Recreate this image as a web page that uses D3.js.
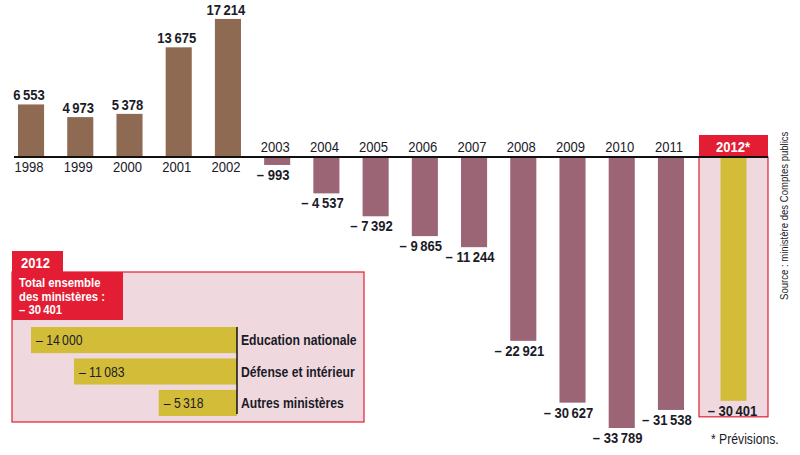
<!DOCTYPE html>
<html>
<head>
<meta charset="utf-8">
<script src="https://cdn.jsdelivr.net/npm/d3@7"></script>
<style>
  body { margin: 0; background: #fff; }
  svg text { font-family: "Liberation Sans", Arial, sans-serif; fill: #1b1b28; }
</style>
</head>
<body>
<svg id="chart" width="800" height="455"></svg>
<script>
// yearly balance of posts (1998-2011 realised, 2012 forecast)
let years = ["1998","1999","2000","2001","2002","2003","2004","2005","2006","2007","2008","2009","2010","2011"];
let values = [6553, 4973, 5378, 13675, 17214, -993, -4537, -7392, -9865, -11244, -22921, -30627, -33789, -31538];
let forecastYear = "2012*";
let forecastValue = -30401;

// 2012 breakdown by ministry
let ministries = ["Education nationale", "Défense et intérieur", "Autres ministères"];
let ministryValues = [-14000, -11083, -5318];

let sourceText = "Source : ministère des Comptes publics";
let noteText = "* Prévisions.";

const brown = "#8f6a53", mauve = "#9b6575", gold = "#d3bd38", pink = "#efd9df", red = "#e31d33";
const narrow = 0.87; // fake the condensed face of the original

const fmt = v => {
  let s = d3.format(",")(Math.abs(v)).replace(/,/g, "\u202f");
  return v < 0 ? "– " + s : s;
};

// text squeezed horizontally around its anchor point
function ctext(parent, px, py, txt, size, bold, anchor, fill) {
  return parent.append("text")
    .attr("transform", `translate(${px},${py}) scale(${narrow},1)`)
    .attr("text-anchor", anchor || "start")
    .style("font-size", size + "px")
    .style("font-weight", bold ? "bold" : "normal")
    .style("fill", fill || null)
    .text(txt);
}

const svg = d3.select("#chart");

let x = d3.scaleBand().domain(years).range([18, 684]).paddingInner(0.47).paddingOuter(0);
let y = d3.scaleLinear().domain([0, -33789]).range([157, 428]);
let xF = d3.scaleBand().domain([forecastYear]).range([699, 768]).paddingInner(0).paddingOuter(0.83);

// forecast highlight box
svg.append("rect")
  .attr("x", 699).attr("y", y(0)).attr("width", 69).attr("height", y(forecastValue) - y(0) + 16)
  .attr("fill", pink).attr("stroke", red).attr("stroke-width", 1.2);
svg.append("rect")
  .attr("x", 699).attr("y", 135).attr("width", 69).attr("height", 22)
  .attr("fill", red);
ctext(svg, 733, 152, forecastYear, 15, true, "middle", "#fff");

// bars
svg.selectAll(".bar").data(values).join("rect")
  .attr("class", "bar")
  .attr("x", (d, i) => x(years[i]))
  .attr("width", x.bandwidth())
  .attr("y", d => Math.min(y(d), y(0)))
  .attr("height", d => Math.abs(y(d) - y(0)))
  .attr("fill", d => d > 0 ? brown : mauve);

svg.append("rect")
  .attr("x", xF(forecastYear)).attr("width", xF.bandwidth())
  .attr("y", y(0)).attr("height", y(forecastValue) - y(0))
  .attr("fill", gold);

// zero line
svg.append("line")
  .attr("x1", 14).attr("x2", 768).attr("y1", y(0)).attr("y2", y(0))
  .attr("stroke", "#111").attr("stroke-width", 2);

// year labels and value labels
values.forEach((d, i) => {
  let cx = x(years[i]) + x.bandwidth() / 2;
  ctext(svg, cx - 2, d > 0 ? y(0) + 15 : y(0) - 5, years[i], 15, false, "middle");
  ctext(svg, cx - (d > 0 ? 2 : 4), d > 0 ? y(d) - 4 : y(d) + 15, fmt(d), 15, true, "middle");
});

ctext(svg, xF(forecastYear) + xF.bandwidth() / 2 - 1, y(forecastValue) + 15, fmt(forecastValue), 15, true, "middle");

// inset: 2012 by ministry
let inset = svg.append("g");
inset.append("rect")
  .attr("x", 12).attr("y", 272).attr("width", 352).attr("height", 150)
  .attr("fill", pink).attr("stroke", red).attr("stroke-width", 1.2);
inset.append("rect").attr("x", 12).attr("y", 251).attr("width", 51).attr("height", 22).attr("fill", red);
inset.append("rect").attr("x", 12).attr("y", 272).attr("width", 111).attr("height", 48).attr("fill", red);
ctext(inset, 21, 268, "2012", 15, true, "start", "#fff");
["Total ensemble", "des ministères :", fmt(forecastValue)].forEach((t, i) => {
  ctext(inset, 19, 287 + i * 13.5, t, 13, true, "start", "#fff");
});

let xi = d3.scaleLinear().domain([-14000, 0]).range([31, 237]);
let yi = d3.scaleBand().domain(ministries).range([327, 416]).paddingInner(0.17).paddingOuter(0);

inset.selectAll(".mbar").data(ministryValues).join("rect")
  .attr("class", "mbar")
  .attr("x", d => xi(d)).attr("width", d => xi(0) - xi(d))
  .attr("y", (d, i) => yi(ministries[i])).attr("height", yi.bandwidth())
  .attr("fill", gold);

inset.append("line")
  .attr("x1", xi(0)).attr("x2", xi(0)).attr("y1", 327).attr("y2", 414)
  .attr("stroke", "#111").attr("stroke-width", 1.5);

ministryValues.forEach((d, i) => {
  let cy = yi(ministries[i]) + yi.bandwidth() / 2 + 5;
  ctext(inset, xi(d) + 5, cy, fmt(d), 14, false, "start");
  ctext(inset, xi(0) + 4, cy, ministries[i], 14, true, "start");
});

// source and note
svg.append("text")
  .attr("transform", `translate(788,300) rotate(-90) scale(${narrow},1)`)
  .style("font-size", "11px")
  .text(sourceText);

ctext(svg, 711, 444, noteText, 14, false, "start");
</script>
</body>
</html>
